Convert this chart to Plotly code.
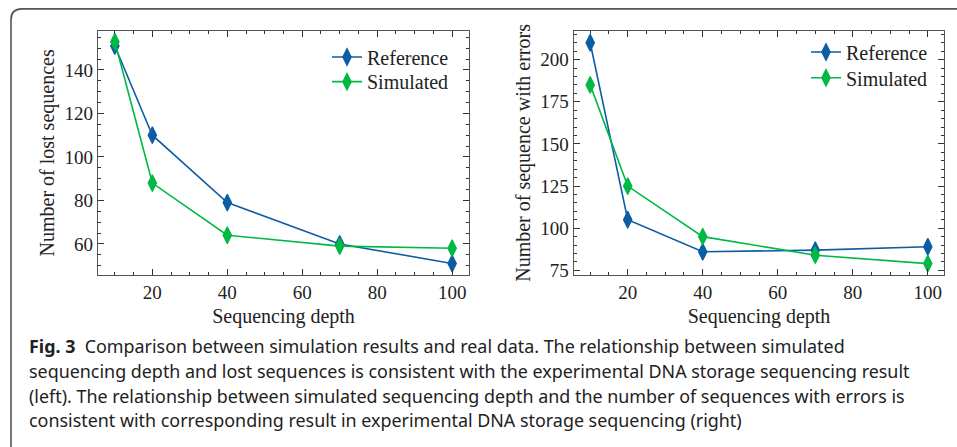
import plotly.graph_objects as go

depth = [10, 20, 40, 70, 100]
lost_reference = [151, 110, 79, 60, 51]
lost_simulated = [153, 88, 64, 59, 58]
err_reference = [210, 105, 86, 87, 89]
err_simulated = [185, 125, 95, 84, 79]

BLUE = "#0C5DA5"
GREEN = "#00B945"
W, H = 957, 447

caption_lines = [
    "<b>Fig. 3</b>  Comparison between simulation results and real data. The relationship between simulated",
    "sequencing depth and lost sequences is consistent with the experimental DNA storage sequencing result",
    "(left). The relationship between simulated sequencing depth and the number of sequences with errors is",
    "consistent with corresponding result in experimental DNA storage sequencing (right)",
]

fig = go.Figure()

def add_series(x, y, name, color, xa, ya, leg):
    fig.add_trace(go.Scatter(
        x=x, y=y, name=name, mode="lines+markers",
        line=dict(color=color, width=1.6),
        marker=dict(symbol="diamond-tall", size=12, color=color,
                    line=dict(color=color, width=1.2)),
        xaxis=xa, yaxis=ya, showlegend=True, legend=leg,
    ))

add_series(depth, lost_reference, "Reference", BLUE, "x", "y", "legend")
add_series(depth, lost_simulated, "Simulated", GREEN, "x", "y", "legend2")
add_series(depth, err_reference, "Reference", BLUE, "x2", "y2", "legend3")
add_series(depth, err_simulated, "Simulated", GREEN, "x2", "y2", "legend4")

tickfont = dict(family="Liberation Serif", size=19, color="#222")
titlefont = dict(family="Liberation Serif", size=20, color="#222")
axcommon = dict(
    showline=True, linecolor="#555", linewidth=1.3, mirror="ticks",
    ticks="inside", ticklen=6, tickwidth=1.2, tickcolor="#333",
    minor=dict(ticks="inside", ticklen=3, tickwidth=1, tickcolor="#333", dtick=5),
    showgrid=False, zeroline=False, tickfont=tickfont,
)

ytop, ybot = 31, 279
ydom = [(H - ybot) / H, (H - ytop) / H]

def px(x):
    return x / W
def py(y):
    return (H - y) / H

legfont = dict(family="Liberation Serif", size=20, color="#222")
def leg(x, y):
    return dict(x=px(x), y=py(y), xanchor="left", yanchor="top",
                bgcolor="rgba(0,0,0,0)", font=legfont, tracegroupgap=0)

fig.update_layout(
    width=W, height=H, margin=dict(l=0, r=0, t=0, b=0),
    paper_bgcolor="white", plot_bgcolor="white",
    xaxis=dict(domain=[98 / W, 469 / W], range=[5.5, 104.5], tick0=0, dtick=20,
               title=dict(text="Sequencing depth", font=titlefont, standoff=6),
               anchor="y", **axcommon),
    yaxis=dict(domain=ydom, range=[45.6, 158.1], tick0=0, dtick=20,
               title=dict(text="Number of lost sequences", font=titlefont, standoff=4),
               anchor="x", **axcommon),
    xaxis2=dict(domain=[573.7 / W, 944.3 / W], range=[5.6, 104.4], tick0=0, dtick=20,
                title=dict(text="Sequencing depth", font=titlefont, standoff=6),
                anchor="y2", **axcommon),
    yaxis2=dict(domain=ydom, range=[72.1, 217.2], tick0=0, dtick=25,
                title=dict(text="Number of sequence with errors", font=titlefont, standoff=4),
                anchor="x2", **axcommon),
    legend=leg(327, 38),
    legend2=leg(327, 63),
    legend3=leg(806, 33),
    legend4=leg(806, 59),
    showlegend=True,
)

# rounded border box (extends beyond right and bottom edges)
r = 11
x0, y0 = 11, 9
path = (f"M {px(x0)},{py(H + 20)} L {px(x0)},{py(y0 + r)} "
        f"Q {px(x0)},{py(y0)} {px(x0 + r)},{py(y0)} L {px(W + 20)},{py(y0)}")
fig.add_shape(type="path", path=path, xref="paper", yref="paper",
              line=dict(color="#555", width=1.6))

ys = [351, 376, 401, 426]
for t, yc in zip(caption_lines, ys):
    fig.add_annotation(text=t, x=px(27), y=py(yc), xref="paper", yref="paper",
                       xanchor="left", yanchor="middle", showarrow=False, align="left",
                       font=dict(family="Noto Sans", size=17.9, color="#222"))

fig.write_html("out.html", config={"displayModeBar": False},
               post_script="document.body.style.margin='0px';document.body.style.overflow='hidden';")
